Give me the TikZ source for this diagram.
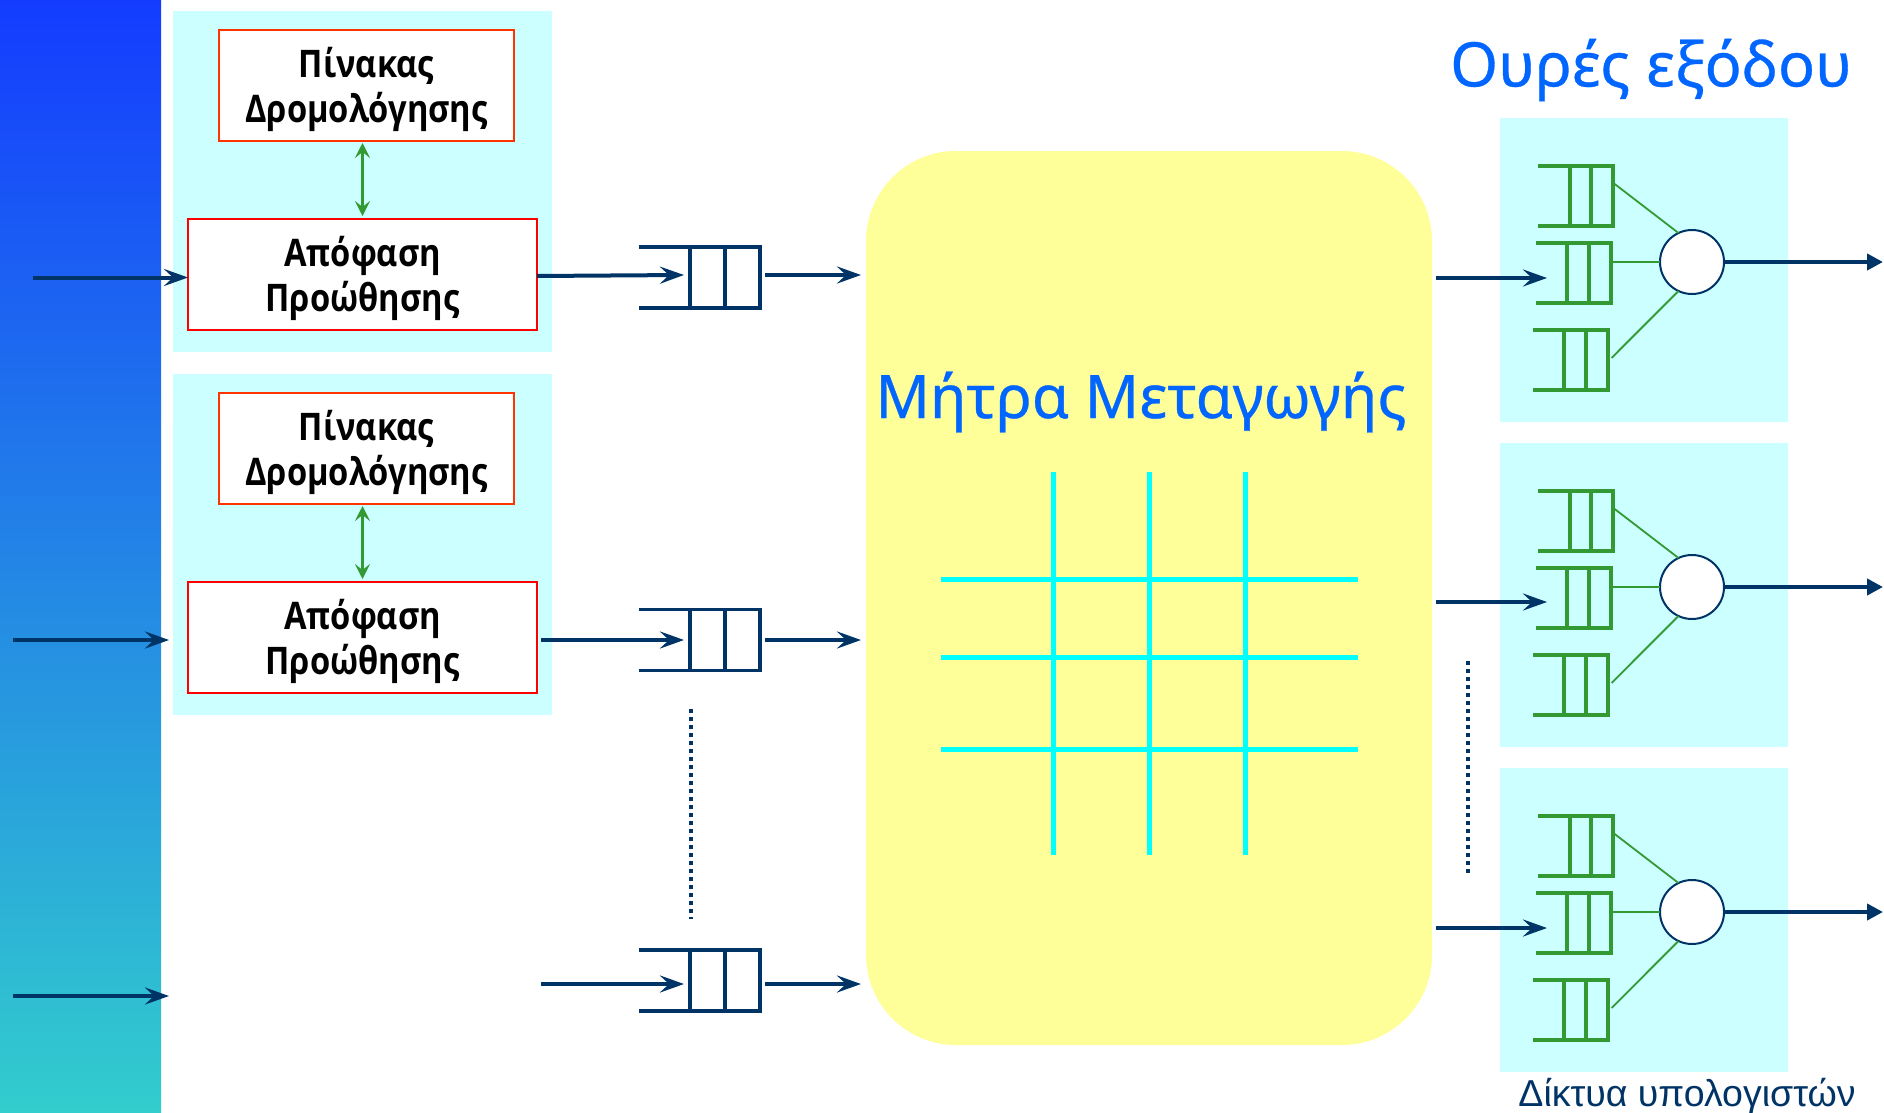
\documentclass[tikz,border=0pt]{standalone}
\usepackage{fontspec}
\usepackage{tikz}
\usetikzlibrary{calc}
\usetikzlibrary{arrows.meta}
\setmainfont{Liberation Sans}
\newfontfamily\boxfont[FakeStretch=0.86]{Open Sans}
\newfontfamily\titlefont[FakeBold=0.5]{Noto Sans}

\definecolor{navyline}{RGB}{0,51,102}
\definecolor{greenline}{RGB}{51,153,51}
\definecolor{panelcyan}{RGB}{204,255,255}
\definecolor{matrixyellow}{RGB}{255,255,153}
\definecolor{titleblue}{RGB}{0,102,255}
\definecolor{barblue}{RGB}{20,60,255}
\definecolor{barteal}{RGB}{50,205,205}
\definecolor{gridcyan}{RGB}{0,255,255}
\definecolor{tablered}{RGB}{255,51,0}
\definecolor{decisionred}{RGB}{255,0,0}

\tikzset{
  panel/.style={fill=panelcyan,inner sep=0pt,outer sep=0pt},
  tablebox/.style={draw=tablered,line width=2.5pt,fill=white,minimum width=295pt,minimum height=111pt,inner sep=0pt,outer sep=0pt,align=center,font=\boxfont\bfseries\fontsize{38}{45}\selectfont},
  decisionbox/.style={tablebox,draw=decisionred,minimum width=349pt},
  inqueue/.style={minimum width=121pt,minimum height=61pt,inner sep=0pt,outer sep=0pt},
  outqueue/.style={minimum width=75pt,minimum height=60pt,inner sep=0pt,outer sep=0pt},
  inarrow/.style={navyline,line width=4pt,-{Stealth[length=24pt,width=17pt,inset=9pt]}},
  outarrow/.style={navyline,line width=4.5pt,-{Stealth[length=16pt,width=16pt,inset=0pt]}},
  linkarrow/.style={greenline,line width=2.5pt,{Stealth[length=15pt,width=15pt,inset=6pt]}-{Stealth[length=15pt,width=15pt,inset=6pt]}},
  navyq/.style={navyline,line width=3.5pt},
  greenq/.style={greenline,line width=4pt},
  thinlink/.style={greenline,line width=1.8pt},
  gridline/.style={gridcyan,line width=5pt},
  dots/.style={navyline,line width=4pt,dash pattern=on 4pt off 4pt},
  scheduler/.style={circle,draw=navyline,fill=white,line width=2pt,minimum size=64pt,inner sep=0pt,outer sep=0pt}
}

% one queue: the name of its node, then the look of its lines
\newcommand{\queuelines}[2]{
  \draw[#2] (#1.north west) -- (#1.north east) -- (#1.south east) -- (#1.south west);
  \draw[#2] ($(#1.north west)!0.42!(#1.north east)$) -- ($(#1.south west)!0.42!(#1.south east)$);
  \draw[#2] ($(#1.north west)!0.71!(#1.north east)$) -- ($(#1.south west)!0.71!(#1.south east)$);
}

\begin{document}
\begin{tikzpicture}[x=1pt,y=-1pt]
    \useasboundingbox (0,0) rectangle (1884,1113);

    % Left bar
    \shade[top color=barblue,bottom color=barteal] (0,0) rectangle (161,1113);

    % Input panels
    \node[panel,minimum width=379pt,minimum height=341pt] (P1) at (362.5,181.5) {};
    \node[panel,minimum width=379pt,minimum height=341pt] (P2) at (362.5,544.5) {};
    \node[tablebox] (R1) at (366.5,85.5) {\rule{0pt}{38pt}Πίνακας\\Δρομολόγησης};
    \node[decisionbox] (D1) at (362.5,274.5) {\rule{0pt}{38pt}Απόφαση\\Προώθησης};
    \node[tablebox] (R2) at (366.5,448.5) {\rule{0pt}{38pt}Πίνακας\\Δρομολόγησης};
    \node[decisionbox] (D2) at (362.5,637.5) {\rule{0pt}{38pt}Απόφαση\\Προώθησης};
    \draw[linkarrow] ($(R1.south)+(-4,2)$) -- ($(D1.north)+(0,-3)$);
    \draw[linkarrow] ($(R2.south)+(-4,2)$) -- ($(D2.north)+(0,-3)$);

    % Switching fabric
    \node[fill=matrixyellow,rounded corners=90pt,minimum width=566pt,minimum height=894pt,inner sep=0pt,outer sep=0pt] (M) at (1149,598) {};
    \node[text=titleblue,font=\titlefont\fontsize{60}{70}\selectfont] (MT) at (1141,402) {Μήτρα Μεταγωγής};
    \coordinate (V1a) at (1053,472);
    \coordinate (V1b) at (1053,855);
    \coordinate (V2a) at (1149,472);
    \coordinate (V2b) at (1149,855);
    \coordinate (V3a) at (1245,472);
    \coordinate (V3b) at (1245,855);
    \coordinate (H1a) at (941,579);
    \coordinate (H1b) at (1358,579);
    \coordinate (H2a) at (941,657);
    \coordinate (H2b) at (1358,657);
    \coordinate (H3a) at (941,749);
    \coordinate (H3b) at (1358,749);
    \draw[gridline] (V1a) -- (V1b);
    \draw[gridline] (V2a) -- (V2b);
    \draw[gridline] (V3a) -- (V3b);
    \draw[gridline] (H1a) -- (H1b);
    \draw[gridline] (H2a) -- (H2b);
    \draw[gridline] (H3a) -- (H3b);

    % Input queues
    \node[inqueue] (Q1) at (699.5,277.5) {};
    \node[inqueue] (Q2) at (699.5,640) {};
    \node[inqueue] (Q3) at (699.5,980.5) {};
    \queuelines{Q1}{navyq}
    \queuelines{Q2}{navyq}
    \queuelines{Q3}{navyq}

    % Input side arrows
    \coordinate (I1) at (33,277.5);
    \coordinate (I2) at (13,640);
    \coordinate (I3) at (13,996);
    \coordinate (I2e) at (169,640);
    \coordinate (I3e) at (169,996);
    \coordinate (Q1in) at (684,275);
    \coordinate (Q2in) at (684,640);
    \coordinate (Q3in) at (684,984);
    \coordinate (Q3s) at (541,984);
    \coordinate (Q1o) at (765,275);
    \coordinate (Q2o) at (765,640);
    \coordinate (Q3o) at (765,984);
    \coordinate (M1) at (861,275);
    \coordinate (M2) at (861,640);
    \coordinate (M3) at (861,984);
    \draw[inarrow] (I1) -- (D1.west |- I1);
    \draw[inarrow] (I2) -- (I2e);
    \draw[inarrow] (I3) -- (I3e);
    \draw[inarrow] ($(D1.east)+(0,1.5)$) -- (Q1in);
    \draw[inarrow] ($(D2.east)+(4,2.5)$) -- (Q2in);
    \draw[inarrow] (Q3s) -- (Q3in);
    \draw[inarrow] (Q1o) -- (M1);
    \draw[inarrow] (Q2o) -- (M2);
    \draw[inarrow] (Q3o) -- (M3);

    % Dotted lines
    \coordinate (L1a) at (691,709);
    \coordinate (L1b) at (691,919);
    \coordinate (L2a) at (1468,661);
    \coordinate (L2b) at (1468,873);
    \draw[dots] (L1a) -- (L1b);
    \draw[dots] (L2a) -- (L2b);

    % Output panels
    \node[text=titleblue,font=\titlefont\fontsize{61.5}{70}\selectfont] (OT) at (1651,70) {Ουρές εξόδου};
    \node[panel,minimum width=288pt,minimum height=304pt] (O1) at (1644,270) {};
    \node[panel,minimum width=288pt,minimum height=304pt] (O2) at (1644,595) {};
    \node[panel,minimum width=288pt,minimum height=304pt] (O3) at (1644,920) {};
    \node[text=navyline,font=\fontsize{37.5}{44}\selectfont,anchor=base] (OL) at (1687,1106) {Δίκτυα υπολογιστών};

    % First output port
    \node[outqueue] (A1) at (1575.5,195.5) {};
    \node[outqueue] (B1) at (1573,273) {};
    \node[outqueue] (C1) at (1570,360) {};
    \node[scheduler] (S1) at (1692,262) {};
    \queuelines{A1}{greenq}
    \queuelines{B1}{greenq}
    \queuelines{C1}{greenq}
    \draw[thinlink] ($(A1.east)+(1,-12)$) -- (S1.115);
    \draw[thinlink] (B1.east |- S1) -- (S1.west);
    \draw[thinlink] ($(C1.east)+(4,-2)$) -- (S1.245);

    % Second output port
    \node[outqueue] (A2) at (1575.5,520.5) {};
    \node[outqueue] (B2) at (1573,598) {};
    \node[outqueue] (C2) at (1570,685) {};
    \node[scheduler] (S2) at (1692,587) {};
    \queuelines{A2}{greenq}
    \queuelines{B2}{greenq}
    \queuelines{C2}{greenq}
    \draw[thinlink] ($(A2.east)+(1,-12)$) -- (S2.115);
    \draw[thinlink] (B2.east |- S2) -- (S2.west);
    \draw[thinlink] ($(C2.east)+(4,-2)$) -- (S2.245);

    % Third output port
    \node[outqueue] (A3) at (1575.5,845.5) {};
    \node[outqueue] (B3) at (1573,923) {};
    \node[outqueue] (C3) at (1570,1010) {};
    \node[scheduler] (S3) at (1692,912) {};
    \queuelines{A3}{greenq}
    \queuelines{B3}{greenq}
    \queuelines{C3}{greenq}
    \draw[thinlink] ($(A3.east)+(1,-12)$) -- (S3.115);
    \draw[thinlink] (B3.east |- S3) -- (S3.west);
    \draw[thinlink] ($(C3.east)+(4,-2)$) -- (S3.245);

    % Arrows to the output queues and out of the ports
    \coordinate (F1) at (1436,278);
    \coordinate (F2) at (1436,602);
    \coordinate (F3) at (1436,928);
    \coordinate (G1) at (1547,278);
    \coordinate (G2) at (1547,602);
    \coordinate (G3) at (1547,928);
    \coordinate (E1) at (1883,262);
    \coordinate (E2) at (1883,587);
    \coordinate (E3) at (1883,912);
    \draw[inarrow] (F1) -- (G1);
    \draw[inarrow] (F2) -- (G2);
    \draw[inarrow] (F3) -- (G3);
    \draw[outarrow] (S1.east) -- (E1);
    \draw[outarrow] (S2.east) -- (E2);
    \draw[outarrow] (S3.east) -- (E3);
\end{tikzpicture}
\end{document}
